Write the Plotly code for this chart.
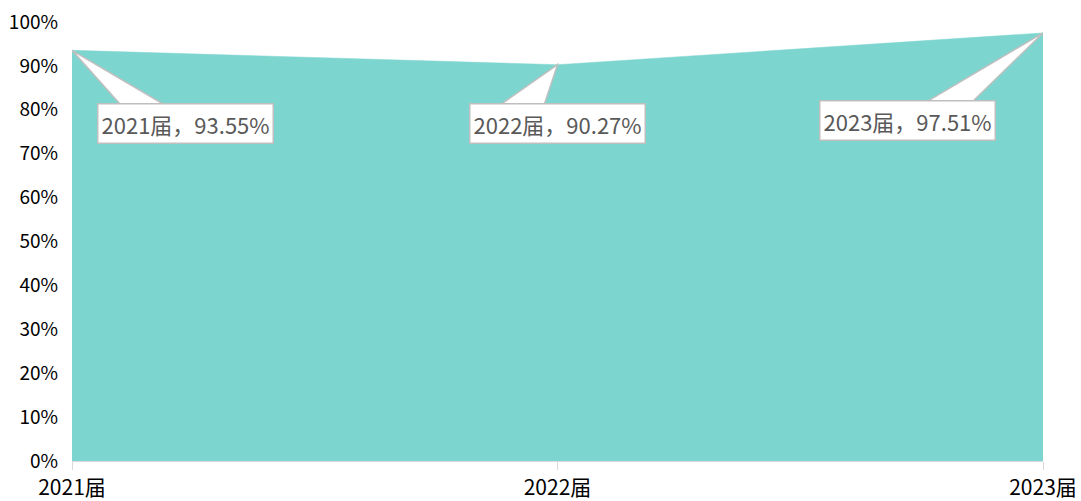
import plotly.graph_objects as go

# data
years = ["2021届", "2022届", "2023届"]
rates = [93.55, 90.27, 97.51]
y_ticks = [0, 10, 20, 30, 40, 50, 60, 70, 80, 90, 100]

# callout box offsets from point (pixels) and wedge base relative to box centre
box_off = [(113, 73), (0, 59), (-136, 88)]
wedge_base = [(-63, -18), (-60, -14), (16, 63)]

W, H = 1081, 501
ml, mr, mt, mb = 72, 38, 22, 40
px_x = (W - ml - mr) / 2
px_y = (H - mt - mb) / 100

xs = list(range(len(years)))

fig = go.Figure()
fig.add_trace(go.Scatter(
    x=xs, y=rates, mode="lines", fill="tozeroy",
    fillcolor="#7DD5CF", line=dict(color="#7DD5CF", width=0.5),
    hoverinfo="skip", showlegend=False,
))

box_h = 38
for i, (yr, v) in enumerate(zip(years, rates)):
    dx, dy = box_off[i]
    bx0, bx1 = wedge_base[i]
    top = dy - box_h / 2 + 2
    # wedge from point to box top edge
    p0 = (xs[i], v)
    p1 = (xs[i] + (dx + bx0) / px_x, v - top / px_y)
    p2 = (xs[i] + (dx + bx1) / px_x, v - top / px_y)
    fig.add_shape(
        type="path",
        path=f"M {p0[0]},{p0[1]} L {p1[0]},{p1[1]} L {p2[0]},{p2[1]} Z",
        xref="x", yref="y", fillcolor="white",
        line=dict(color="#BFBFBF", width=1.5), layer="above",
    )
    fig.add_annotation(
        x=xs[i], y=v, xref="x", yref="y",
        text=f"{yr}，{v:.2f}%",
        showarrow=True, arrowcolor="rgba(0,0,0,0)", ax=dx, ay=dy,
        font=dict(size=22, color="#595959", family="Noto Sans CJK SC"),
        bgcolor="white", bordercolor="#BFBFBF", borderwidth=1.5, borderpad=3,
    )

fig.update_layout(
    width=W, height=H,
    margin=dict(l=ml, r=mr, t=mt, b=mb),
    plot_bgcolor="white", paper_bgcolor="white",
    font=dict(family="Noto Sans CJK SC", color="black"),
    xaxis=dict(
        range=[0, 2], tickvals=xs, ticktext=years,
        showgrid=False, zeroline=False, automargin=False,
        showline=True, linecolor="#D9D9D9", linewidth=1,
        ticks="outside", ticklen=8, tickcolor="#D9D9D9",
        tickfont=dict(size=21, color="black"),
    ),
    yaxis=dict(
        range=[0, 100], tickvals=y_ticks,
        ticktext=[f"{t}%" for t in y_ticks],
        showgrid=False, zeroline=False, showline=False, automargin=False,
        tickfont=dict(size=19, color="black"),
        ticklabelstandoff=13,
    ),
)

# drop the default 8px page margin so the figure fills the window
fig.write_html(
    "out.html",
    config={"displayModeBar": False},
    post_script="document.body.style.margin='0';",
)
